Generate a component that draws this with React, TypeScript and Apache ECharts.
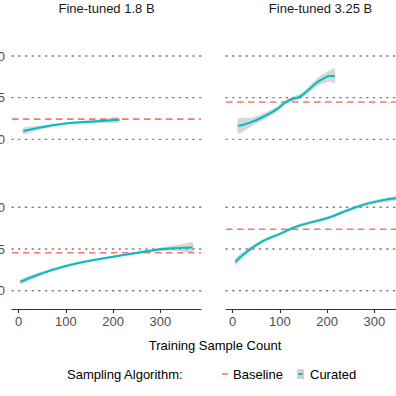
import React, { useEffect, useRef } from "react";
import * as echarts from "echarts";

// ---- labels ----
const panelTitles = ["Fine-tuned 1.8 B", "Fine-tuned 3.25 B"];
const seriesNames = ["Baseline", "Curated"];
const legendTitle = "Sampling Algorithm:";
const xAxisTitle = "Training Sample Count";
const xTicks = [0, 100, 200, 300];
const topYTicks = [0.7, 0.75, 0.8];
const bottomYTicks = [0.6, 0.65, 0.7];

// ---- axis ranges ----
const xMin = -14;
const xMax = 386;
const topYMin = 0.6752;
const topYMax = 0.8432;
const bottomYMin = 0.5781;
const bottomYMax = 0.7483;

// ---- baselines (top-left, top-right, bottom-left, bottom-right) ----
const baselineValues = [0.7243, 0.7448, 0.6456, 0.6737];

// ---- curated smooth fits ----
const tlX = [10, 40, 80, 118, 160, 213];
const tlMid = [0.710, 0.7135, 0.7175, 0.720, 0.7215, 0.7235];
const tlLo = [0.706, 0.711, 0.716, 0.7185, 0.7195, 0.7205];
const tlHi = [0.714, 0.716, 0.719, 0.7215, 0.7235, 0.7265];

const trX = [12, 37, 65, 93, 114, 128, 142, 156, 178, 192, 206, 216];
const trMid = [0.716, 0.720, 0.7271, 0.736, 0.7451, 0.7487, 0.7511, 0.7571, 0.768, 0.7728, 0.776, 0.776];
const trLo = [0.707, 0.7145, 0.7231, 0.7325, 0.7421, 0.7457, 0.7481, 0.7536, 0.7635, 0.767, 0.769, 0.767];
const trHi = [0.725, 0.7255, 0.7311, 0.7395, 0.7481, 0.7517, 0.7541, 0.7606, 0.7725, 0.7786, 0.783, 0.785];

const blX = [4, 50, 100, 150, 200, 241, 300, 340, 368];
const blMid = [0.6108, 0.621, 0.6297, 0.636, 0.6408, 0.6446, 0.6497, 0.6513, 0.6517];
const blLo = [0.6078, 0.619, 0.628, 0.6345, 0.6393, 0.643, 0.6475, 0.6475, 0.6457];
const blHi = [0.6138, 0.623, 0.6314, 0.6375, 0.6423, 0.6462, 0.6519, 0.6551, 0.6577];

const brX = [6, 30, 65, 100, 135, 170, 206, 241, 276, 311, 346, 375];
const brMid = [0.6348, 0.6468, 0.6597, 0.6681, 0.6768, 0.6825, 0.6881, 0.696, 0.7029, 0.7077, 0.7109, 0.7125];
const brLo = [0.6308, 0.6438, 0.6575, 0.666, 0.6748, 0.6805, 0.6861, 0.694, 0.7007, 0.7052, 0.7079, 0.7075];
const brHi = [0.6388, 0.6498, 0.6619, 0.6702, 0.6788, 0.6845, 0.6901, 0.698, 0.7051, 0.7102, 0.7139, 0.7175];

const fits = [
  { x: tlX, mid: tlMid, lo: tlLo, hi: tlHi },
  { x: trX, mid: trMid, lo: trLo, hi: trHi },
  { x: blX, mid: blMid, lo: blLo, hi: blHi },
  { x: brX, mid: brMid, lo: brLo, hi: brHi },
];

const RED = "#F8766D";
const TEAL = "#00BFC4";
const FONT = "Liberation Sans, Arial, sans-serif";

export default function App() {
  const ref = useRef<HTMLDivElement>(null);

  useEffect(() => {
    if (!ref.current) return;
    const chart = echarts.init(ref.current, undefined, { renderer: "svg" });

    const gridBoxes = [
      { left: 12, top: 20, width: 189, height: 140 },
      { left: 226, top: 20, width: 189, height: 140 },
      { left: 12, top: 167, width: 189, height: 142 },
      { left: 226, top: 167, width: 189, height: 142 },
    ].map((g) => ({ ...g, containLabel: false, outerBoundsMode: "none", show: false }));

    const xAxes = gridBoxes.map((_, i) => {
      const bottom = i >= 2;
      return {
        type: "value",
        gridIndex: i,
        min: xMin,
        max: xMax,
        show: bottom,
        splitLine: { show: false },
        axisLine: { show: bottom, lineStyle: { color: "#333333", width: 1.2 } },
        axisTick: { show: bottom, length: 4, customValues: xTicks, lineStyle: { color: "#333333", width: 1.2 } },
        axisLabel: {
          show: bottom,
          customValues: xTicks,
          margin: 6,
          fontSize: 13,
          fontFamily: FONT,
          color: "#4d4d4d",
        },
      };
    });

    const yAxes = gridBoxes.map((_, i) => {
      const top = i < 2;
      const ticks = top ? topYTicks : bottomYTicks;
      return {
        type: "value",
        gridIndex: i,
        min: top ? topYMin : bottomYMin,
        max: top ? topYMax : bottomYMax,
        splitLine: { show: false },
        axisLine: { show: false },
        axisTick: { show: false },
        axisLabel: {
          show: i % 2 === 0,
          customValues: ticks,
          formatter: (v: number) => v.toFixed(2),
          margin: 7,
          fontSize: 13,
          fontFamily: FONT,
          color: "#4d4d4d",
        },
      };
    });

    const series: any[] = [];
    gridBoxes.forEach((_, i) => {
      const ticks = i < 2 ? topYTicks : bottomYTicks;
      ticks.forEach((v) => {
        series.push({
          type: "line",
          xAxisIndex: i,
          yAxisIndex: i,
          data: [[xMin, v], [xMax, v]],
          symbol: "none",
          silent: true,
          z: 1,
          lineStyle: { color: "#7a7a7a", width: 1.4, type: [1.2, 5.5], cap: "round" },
        });
      });
      series.push({
        name: seriesNames[0],
        type: "line",
        xAxisIndex: i,
        yAxisIndex: i,
        data: [[xMin, baselineValues[i]], [xMax, baselineValues[i]]],
        symbol: "none",
        z: 2,
        lineStyle: { color: RED, width: 1.6, type: [6.5, 4.5] },
      });
      const f = fits[i];
      series.push({
        type: "custom",
        xAxisIndex: i,
        yAxisIndex: i,
        data: [[f.x[0], f.mid[0]]],
        z: 3,
        silent: true,
        renderItem: (_params: any, api: any) => {
          const upper = f.x.map((x, k) => api.coord([x, f.hi[k]]));
          const lower = f.x.map((x, k) => api.coord([x, f.lo[k]])).reverse();
          return {
            type: "group",
            children: [
              {
                type: "polyline",
                shape: { points: upper, smooth: 0.35 },
                style: { stroke: "none", fill: "none" },
              },
              {
                type: "polygon",
                shape: { points: upper.concat(lower), smooth: 0.25 },
                style: { fill: "#9a9a9a", opacity: 0.4 },
              },
            ],
          };
        },
      });
      series.push({
        name: seriesNames[1],
        type: "line",
        xAxisIndex: i,
        yAxisIndex: i,
        data: f.x.map((x, k) => [x, f.mid[k]]),
        symbol: "none",
        smooth: true,
        z: 4,
        lineStyle: { color: TEAL, width: 2 },
      });
    });

    const textStyle = (extra: any) => ({
      fontFamily: FONT,
      fontSize: 13,
      fill: "#1a1a1a",
      verticalAlign: "middle",
      ...extra,
    });

    chart.setOption({
      animation: false,
      backgroundColor: "#ffffff",
      grid: gridBoxes,
      xAxis: xAxes,
      yAxis: yAxes,
      series,
      graphic: [
        { type: "text", x: 106.5, y: 8, style: textStyle({ text: panelTitles[0], align: "center" }) },
        { type: "text", x: 320.5, y: 8, style: textStyle({ text: panelTitles[1], align: "center" }) },
        { type: "text", x: 215, y: 345, style: textStyle({ text: xAxisTitle, align: "center", fill: "#000" }) },
        { type: "text", x: 67, y: 374, style: textStyle({ text: legendTitle, align: "left", fill: "#000" }) },
        { type: "line", shape: { x1: 222, y1: 374, x2: 228, y2: 374 }, style: { stroke: RED, lineWidth: 1.6 } },
        { type: "text", x: 233, y: 374, style: textStyle({ text: seriesNames[0], align: "left", fill: "#000" }) },
        { type: "rect", shape: { x: 297, y: 369, width: 7, height: 10 }, style: { fill: "#d0d0d0" } },
        { type: "line", shape: { x1: 298.5, y1: 374, x2: 302.5, y2: 374 }, style: { stroke: TEAL, lineWidth: 2 } },
        { type: "text", x: 310, y: 374, style: textStyle({ text: seriesNames[1], align: "left", fill: "#000" }) },
      ],
    });

    return () => chart.dispose();
  }, []);

  return (
    <div
      ref={ref}
      style={{ position: "fixed", left: 0, top: 0, width: 396, height: 396, background: "#fff" }}
    />
  );
}
